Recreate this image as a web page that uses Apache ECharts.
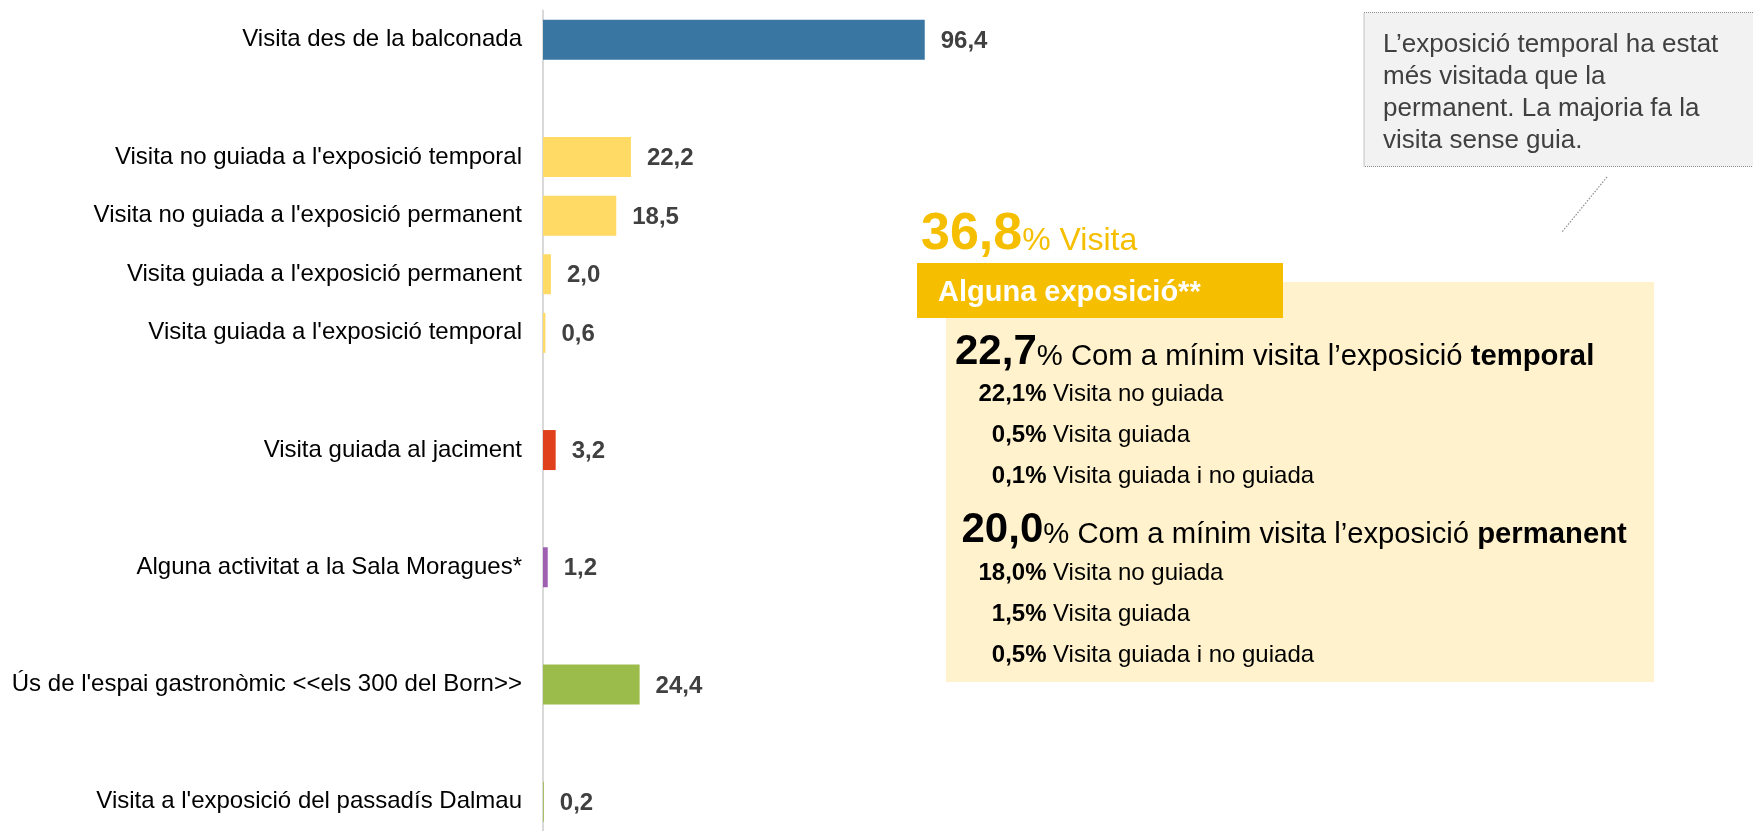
<!DOCTYPE html>
<html>
<head>
<meta charset="utf-8">
<script src="https://cdn.jsdelivr.net/npm/echarts@6/dist/echarts.min.js"></script>
<style>
html,body{margin:0;padding:0;background:#fff;}
#chart{width:1753px;height:831px;}
</style>
</head>
<body>
<div id="chart"></div>
<script>
// ---- data ----
const categories = [
  'Visita des de la balconada', '',
  "Visita no guiada a l'exposició temporal",
  "Visita no guiada a l'exposició permanent",
  "Visita guiada a l'exposició permanent",
  "Visita guiada a l'exposició temporal", '',
  'Visita guiada al jaciment', '',
  'Alguna activitat a la Sala Moragues*', '',
  "Ús de l'espai gastronòmic <<els 300 del Born>>", '',
  "Visita a l'exposició del passadís Dalmau"
];
const values = [96.4, null, 22.2, 18.5, 2.0, 0.6, null, 3.2, null, 1.2, null, 24.4, null, 0.2];
const barColors = ['#3A76A2', null, '#FFDA65', '#FFDA65', '#FFDA65', '#FFDA65', null, '#E0401C', null, '#9E5FB0', null, '#9BBB4A', null, '#9BBB4A'];

const headlineValue = '36,8';
const headlineText = 'Visita';
const headerLabel = 'Alguna exposició**';
const temporalTotal = '22,7';
const permanentTotal = '20,0';
const totalText = '% Com a mínim visita l’exposició ';
const temporalWord = 'temporal';
const permanentWord = 'permanent';
const subLabels = ['Visita no guiada', 'Visita guiada', 'Visita guiada i no guiada'];
const temporalSub = ['22,1%', '0,5%', '0,1%'];
const permanentSub = ['18,0%', '1,5%', '0,5%'];
const calloutLines = ['L’exposició temporal ha estat', 'més visitada que la', 'permanent. La majoria fa la', 'visita sense guia.'];

// ---- helpers ----
const FONT = '"Liberation Sans", Arial, sans-serif';
const mctx = document.createElement('canvas').getContext('2d');
function tw(text, size, bold) {
  mctx.font = (bold ? 'bold ' : '') + size + 'px ' + FONT;
  return mctx.measureText(text).width;
}
const BL = 0.29; // baseline offset from middle (em)
function txt(x, baseline, text, size, bold, color, align) {
  return {
    type: 'text', x: x, y: baseline - BL * size, silent: true,
    style: {
      text: text, fill: color, fontSize: size, fontWeight: bold ? 'bold' : 'normal',
      fontFamily: FONT, align: align || 'left', textAlign: align || 'left',
      verticalAlign: 'middle', textVerticalAlign: 'middle'
    }
  };
}
function run(x, baseline, parts) { // parts: [text,size,bold,color]
  const out = [];
  let cx = x;
  parts.forEach(p => {
    out.push(txt(cx, baseline, p[0], p[1], p[2], p[3]));
    cx += tw(p[0], p[1], p[2]);
  });
  return out;
}

const graphics = [];
// callout
graphics.push({ type: 'rect', shape: { x: 1364, y: 12.5, width: 420, height: 154 }, silent: true,
  style: { fill: '#F2F2F2', stroke: '#8C8C8C', lineWidth: 1, lineDash: [1, 1] } });
calloutLines.forEach((l, i) => graphics.push(txt(1383, 52.5 + i * 31.8, l, 26, false, '#404040')));
graphics.push({ type: 'line', shape: { x1: 1607, y1: 177, x2: 1562, y2: 232 }, silent: true,
  style: { stroke: '#8C8C8C', lineWidth: 1.2, lineDash: [1.5, 1.5] } });
// panel
graphics.push({ type: 'rect', shape: { x: 946, y: 282, width: 708, height: 400 }, silent: true,
  style: { fill: '#FFF2CC' } });
graphics.push({ type: 'rect', shape: { x: 917, y: 263, width: 366, height: 55 }, silent: true,
  style: { fill: '#F5BF00' } });
graphics.push(...run(921, 250, [[headlineValue, 52, true, '#F5BF00'], ['% ' + headlineText, 32, false, '#F5BF00']]));
graphics.push(txt(938, 301, headerLabel, 29, true, '#FFFFFF'));
graphics.push(...run(955, 365, [[temporalTotal, 42, true, '#000'], [totalText, 29.25, false, '#000'], [temporalWord, 29.25, true, '#000']]));
const tBase = [401, 442, 483];
temporalSub.forEach((p, i) => {
  graphics.push(txt(1046.5, tBase[i], p, 24, true, '#000', 'right'));
  graphics.push(txt(1053, tBase[i], subLabels[i], 24, false, '#000'));
});
graphics.push(...run(961.5, 543, [[permanentTotal, 42, true, '#000'], [totalText, 29.25, false, '#000'], [permanentWord, 29.25, true, '#000']]));
const pBase = [580, 621, 662];
permanentSub.forEach((p, i) => {
  graphics.push(txt(1046.5, pBase[i], p, 24, true, '#000', 'right'));
  graphics.push(txt(1053, pBase[i], subLabels[i], 24, false, '#000'));
});

const chart = echarts.init(document.getElementById('chart'), null, { renderer: 'canvas' });
chart.setOption({
  animation: false,
  backgroundColor: '#fff',
  textStyle: { fontFamily: FONT },
  grid: { left: 543, top: 10.5, width: 396, height: 826, containLabel: false },
  xAxis: { type: 'value', min: 0, max: 100, show: false, splitLine: { show: false } },
  yAxis: {
    type: 'category', data: categories, inverse: true,
    axisLine: { show: true, lineStyle: { color: '#D9D9D9', width: 2 } },
    axisTick: { show: false },
    axisLabel: { fontSize: 24, color: '#000', margin: 21, fontFamily: FONT, padding: [3, 0, 0, 0] }
  },
  series: [{
    type: 'bar', barWidth: 40,
    data: values.map((v, i) => ({ value: v, itemStyle: { color: barColors[i] || '#ccc' } })),
    label: {
      show: true, position: 'right', distance: 16, offset: [0, 1.5],
      fontSize: 24, fontWeight: 'bold', color: '#404040', fontFamily: FONT,
      formatter: p => (p.value == null ? '' : p.value.toFixed(1).replace('.', ','))
    }
  }],
  graphic: { elements: graphics }
});
</script>
</body>
</html>
